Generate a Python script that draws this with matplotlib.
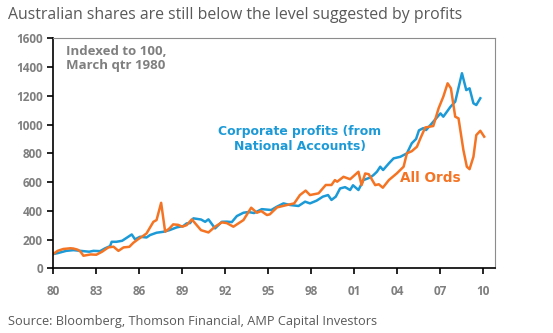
"""Australian shares vs corporate profits, indexed to March qtr 1980."""

import matplotlib
matplotlib.use("Agg")
import matplotlib.pyplot as plt

# Corporate profits (National Accounts), year position -> index
profit_years = [
    1980.0, 1980.3, 1980.9, 1981.4, 1982.1, 1982.5, 1982.8, 1983.26, 1983.6, 1983.96,
    1984.07, 1984.4, 1984.8, 1985.12, 1985.47, 1985.7, 1986.05, 1986.5, 1986.75, 1987.2,
    1987.7, 1988.1, 1988.6, 1989.07, 1989.3, 1989.54, 1989.77, 1990.3, 1990.59, 1990.82,
    1991.28, 1991.75, 1992.1, 1992.45, 1992.8, 1993.26, 1993.6, 1994.0, 1994.54, 1995.2,
    1995.59, 1996.05, 1996.5, 1997.1, 1997.56, 1997.9, 1998.36, 1998.8, 1999.16, 1999.4,
    1999.7, 2000.0, 2000.35, 2000.7, 2000.9, 2001.28, 2001.63, 2002.1, 2002.33, 2002.57,
    2002.8, 2003.0, 2003.4, 2003.73, 2004.2, 2004.66, 2005.0, 2005.3, 2005.5, 2005.8,
    2006.0, 2006.5, 2007.0, 2007.2, 2007.7, 2008.03, 2008.5, 2008.8, 2009.03, 2009.3,
    2009.5, 2009.78,
]
profit_vals = [
    100, 106, 122, 127, 120, 116, 122, 120, 139, 155,
    185, 185, 192, 213, 236, 202, 220, 215, 232, 248,
    255, 266, 285, 295, 313, 315, 348, 340, 324, 341,
    278, 324, 325, 322, 364, 387, 392, 385, 412, 406,
    429, 452, 441, 434, 464, 452, 471, 499, 510, 476,
    499, 556, 565, 545, 578, 545, 614, 632, 649, 672,
    707, 684, 730, 765, 776, 800, 870, 900, 960, 975,
    962, 1020, 1078, 1055, 1124, 1159, 1357, 1240, 1252, 1148,
    1136, 1183,
]

# All Ordinaries index
ords_years = [
    1980.0, 1980.3, 1980.7, 1981.2, 1981.4, 1981.7, 1981.9, 1982.1, 1982.6, 1983.0,
    1983.4, 1983.84, 1984.2, 1984.54, 1984.9, 1985.3, 1985.58, 1985.9, 1986.28, 1986.5,
    1986.98, 1987.2, 1987.52, 1987.8, 1988.1, 1988.36, 1988.7, 1989.0, 1989.3, 1989.66,
    1990.0, 1990.3, 1990.82, 1991.28, 1991.75, 1992.1, 1992.56, 1993.26, 1993.8, 1994.2,
    1994.5, 1994.9, 1995.1, 1995.6, 1996.3, 1996.8, 1997.2, 1997.6, 1997.9, 1998.5,
    1999.0, 1999.4, 1999.64, 1999.8, 2000.24, 2000.7, 2001.28, 2001.5, 2001.75, 2002.0,
    2002.45, 2002.7, 2002.98, 2003.4, 2003.96, 2004.43, 2004.66, 2005.0, 2005.36, 2005.6,
    2005.94, 2006.5, 2006.87, 2007.2, 2007.5, 2007.73, 2008.03, 2008.26, 2008.6, 2008.84,
    2009.03, 2009.3, 2009.5, 2009.78, 2010.05,
]
ords_vals = [
    100, 122, 135, 140, 138, 130, 116, 88, 97, 95,
    116, 146, 151, 122, 146, 150, 178, 202, 227, 243,
    324, 336, 456, 255, 278, 306, 303, 290, 301, 341,
    301, 266, 250, 290, 320, 315, 290, 336, 422, 387,
    399, 371, 376, 424, 441, 452, 510, 541, 510, 522,
    580, 580, 614, 603, 637, 620, 672, 579, 660, 655,
    579, 585, 561, 614, 661, 707, 800, 815, 846, 904,
    980, 990, 1113, 1194, 1287, 1252, 1055, 1043, 823, 707,
    690, 776, 927, 957, 916,
]

tick_years = [1980, 1983, 1986, 1989, 1992, 1995, 1998, 2001, 2004, 2007, 2010]
tick_labels = ["80", "83", "86", "89", "92", "95", "98", "01", "04", "07", "10"]

BLUE = "#1b9ad7"
ORANGE = "#f47424"
GREY = "#7f7f7f"

plt.rcParams["font.family"] = ["Open Sans", "DejaVu Sans"]

fig = plt.figure(figsize=(5.53, 3.33), dpi=100)
ax = fig.add_axes([0.0964, 0.194, 0.7986, 0.691])

ax.plot(profit_years, profit_vals, color=BLUE, lw=1.8)
ax.plot(ords_years, ords_vals, color=ORANGE, lw=1.8)

ax.set_xlim(1980, 2010.8)
ax.set_ylim(0, 1600)
ax.set_yticks(range(0, 1601, 200))
ax.set_xticks(tick_years)
ax.set_xticklabels(tick_labels)

for side in ["top", "right"]:
    ax.spines[side].set_color("#8c8c8c")
for side in ["left", "bottom"]:
    ax.spines[side].set_color("black")
    ax.spines[side].set_linewidth(1.2)
ax.tick_params(axis="both", direction="out", length=4, width=1.2, color="black",
               labelcolor=GREY, labelsize=8.5)
for lbl in ax.get_xticklabels() + ax.get_yticklabels():
    lbl.set_fontweight("bold")
ax.tick_params(axis="x", pad=8)

fig.text(0.014, 0.955, "Australian shares are still below the level suggested by profits",
         fontsize=11.4, color="#595959", ha="left", va="center")
ax.text(1980.9, 1550, "Indexed to 100,\nMarch qtr 1980", fontsize=9.5, color=GREY,
        ha="left", va="top", fontweight="bold", linespacing=1.1)
ax.text(1997.2, 900, "Corporate profits (from\nNational Accounts)", fontsize=8.9,
        color=BLUE, ha="center", va="center", fontweight="bold", linespacing=1.25,
        family="DejaVu Sans")
ax.text(2006.3, 630, "All Ords", fontsize=9.8, color=ORANGE, ha="center",
        va="center", fontweight="bold", family="DejaVu Sans")
fig.text(0.014, 0.035, "Source: Bloomberg, Thomson Financial, AMP Capital Investors",
         fontsize=9.2, color="#595959", ha="left", va="center")

fig.savefig("out.png", dpi=100)
